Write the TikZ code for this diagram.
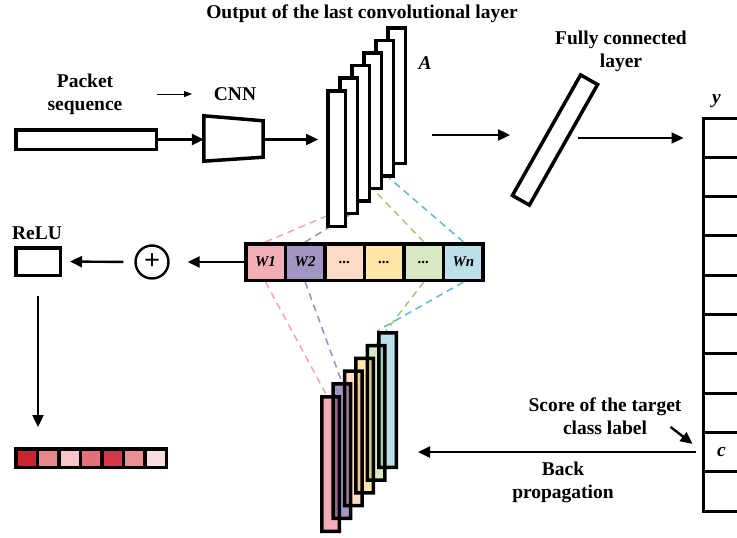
\documentclass[tikz,border=0pt]{standalone}
\usepackage{fontspec}
\setmainfont{Liberation Serif}
\usetikzlibrary{positioning, arrows.meta, calc, backgrounds}
\definecolor{wOneColor}{HTML}{F2AEB6}
\definecolor{wTwoColor}{HTML}{A295C3}
\definecolor{wThreeColor}{HTML}{FDDBC7}
\definecolor{wFourColor}{HTML}{FFE6A9}
\definecolor{wFiveColor}{HTML}{D8E8C5}
\definecolor{wSixColor}{HTML}{BBE0EA}
\definecolor{pinkDash}{HTML}{F4A6AE}
\definecolor{purpleDash}{HTML}{9A8CC6}
\definecolor{greenDash}{HTML}{A6C57A}
\definecolor{blueDash}{HTML}{5DBAD7}
\definecolor{heatOne}{HTML}{D0222E}
\definecolor{heatTwo}{HTML}{E9878F}
\definecolor{heatThree}{HTML}{F5C5C9}
\definecolor{heatFour}{HTML}{E4717A}
\definecolor{heatFive}{HTML}{D63645}
\definecolor{heatSix}{HTML}{EB8E95}
\definecolor{heatSeven}{HTML}{F9DEE1}
\tikzstyle{diagram} = [x = 1pt, y = -1pt]
\tikzstyle{boxStyle} = [draw=black, fill=white, line width=3.5pt, inner sep=0pt]
\tikzstyle{slabStyle} = [boxStyle, minimum width=17.5pt, minimum height=135.5pt]
\tikzstyle{labelText} = [font=\fontsize{19.5}{23}\selectfont\bfseries, align=center, inner sep=0pt]
\tikzstyle{mathText} = [font=\fontsize{19.5}{23}\selectfont\bfseries\itshape, inner sep=0pt]
\tikzstyle{weightText} = [font=\fontsize{15}{15}\selectfont\bfseries\itshape]
\tikzstyle{flowArrow} = [line width=2.4pt, -{Triangle[length=12pt, width=11pt]}]
\tikzstyle{thinArrow} = [line width=1pt, -{Triangle[length=8pt, width=6pt]}]
\tikzstyle{dashLine} = [line width=1.5pt, dash pattern=on 7pt off 5pt]
\newcommand{\cellHeight}{39.3}
\newcommand{\wDots}{...}

\begin{document}
\begin{tikzpicture}[diagram]
  \useasboundingbox (0,0) rectangle (737,538);

  \node [labelText] (titleText) at (362,14) {Output of the last convolutional layer};
  \node [labelText] (packetText) at (85,94.5) {Packet\\sequence};
  \node [labelText] (cnnText) at (235,94) {CNN};
  \node [labelText] (fcText) at (621,51.5) {Fully connected\\layer};
  \node [labelText] (reluText) at (37,233) {ReLU};
  \node [labelText] (scoreText) at (605,416.5) {Score of the target\\class label};
  \node [labelText] (backText) at (563,482.5) {Back\\propagation};
  \node [mathText] (aLabel) at (425,63) {A};

  \node [boxStyle, minimum width=140.5pt, minimum height=19.5pt] (packet) at (86,139.5) {};
  \node [minimum width=59pt, minimum height=45pt, inner sep=0pt] (cnn) at (233.5,138.5) {};
  \draw [line width=3.5pt] (cnn.north west) -- ($(cnn.north east)+(0,5)$)
    -- ($(cnn.south east)+(0,-4)$) -- (cnn.south west) -- cycle;

  \foreach \i in {5,4,...,0} {
    \pgfmathsetmacro{\xPos}{336.5 + 12 * \i}
    \pgfmathsetmacro{\yPos}{158.5 - 12.6 * \i}
    \node [slabStyle] (actLayer\i) at (\xPos,\yPos) {};
  }

  \node [boxStyle, rotate=60.5, minimum width=138.5pt, minimum height=19.5pt] (fcLayer) at (555,140) {};

  \foreach \i in {1,...,10} {
    \pgfmathsetmacro{\yPos}{118 + \cellHeight * \i - \cellHeight / 2}
    \node [boxStyle, line width=3pt, fill=none, minimum width=60pt, minimum height=\cellHeight pt] (yCell\i) at (733,\yPos) {};
  }
  \node [mathText] (yLabel) at ([xshift=15pt, yshift=15pt]yCell1.north west) {y};
  \node [mathText] (cLabel) at ([xshift=20pt]yCell9.west) {c};

  \foreach \i/\col/\txt in {1/wOneColor/W1, 2/wTwoColor/W2, 3/wThreeColor/\wDots, 4/wFourColor/\wDots, 5/wFiveColor/\wDots, 6/wSixColor/Wn} {
    \pgfmathsetmacro{\xPos}{245.75 + 39.58 * \i - 19.79}
    \node [boxStyle, fill=\col, minimum width=39.58pt, minimum height=36.5pt, weightText] (wCell\i) at (\xPos,262) {\txt};
  }

  \node [circle, draw, line width=2.4pt, minimum size=33pt, inner sep=0pt, font=\fontsize{28}{28}\selectfont\bfseries] (plusNode) at (152,262) {+};
  \node [boxStyle, minimum width=44.5pt, minimum height=27.5pt] (reluBox) at (38,261.5) {};

  \foreach \i/\col in {1/heatOne, 2/heatTwo, 3/heatThree, 4/heatFour, 5/heatFive, 6/heatSix, 7/heatSeven} {
    \pgfmathsetmacro{\xPos}{15.75 + 21.5 * \i - 10.75}
    \node [boxStyle, fill=\col, minimum width=21.5pt, minimum height=18.5pt] (heatCell\i) at (\xPos,458) {};
  }

  \begin{scope}[blend group=multiply]
    \foreach \i/\col in {5/wSixColor, 4/wFiveColor, 3/wFourColor, 2/wThreeColor, 1/wTwoColor, 0/wOneColor} {
      \pgfmathsetmacro{\xPos}{330.5 + 11.4 * \i}
      \pgfmathsetmacro{\yPos}{464 - 12.8 * \i}
      \node [slabStyle, fill=\col, minimum height=134.5pt] (gradLayer\i) at (\xPos,\yPos) {};
    }
  \end{scope}

  \begin{scope}[on background layer]
    \draw [dashLine, pinkDash] (wCell1.north) -- ($(actLayer0.center)+(6.5,50.5)$);
    \draw [dashLine, purpleDash] (wCell2.north) -- ($(actLayer1.center)+(2.5,68)$);
    \draw [dashLine, greenDash] (wCell5.north) -- ($(actLayer3.center)+(-7.5,60)$);
    \draw [dashLine, blueDash] (wCell6.north) -- ($(actLayer4.center)+(-4.5,62)$);
    \draw [dashLine, pinkDash] (wCell1.south) -- ([xshift=-4pt]gradLayer0.north);
    \draw [dashLine, purpleDash] (wCell2.south) -- (gradLayer1.north);
    \draw [dashLine, greenDash] (wCell5.south) -- (gradLayer4.north);
    \draw [dashLine, blueDash] (wCell6.south) -- (gradLayer5.north west);
  \end{scope}

  \draw [thinArrow] ([xshift=-78pt]cnnText.center) -- ([xshift=-43pt]cnnText.center);
  \draw [flowArrow] (packet.east) -- (cnn.west |- packet.east);
  \draw [flowArrow, shorten >=8pt] (cnn.east |- packet.east) -- (actLayer0.west |- packet.east);
  \draw [flowArrow, shorten <=25pt, shorten >=45pt] ([yshift=5pt]actLayer5.east |- fcLayer.center) -- ([yshift=5pt]fcLayer.center);
  \draw [flowArrow, shorten <=23pt, shorten >=18pt] ([yshift=2pt]fcLayer.center) -- ([yshift=2pt]fcLayer.center -| yCell1.west);
  \draw [flowArrow, shorten >=18pt] (wCell1.west) -- (plusNode.east);
  \draw [flowArrow, shorten <=11pt, shorten >=8pt] (plusNode.west) -- (reluBox.east);
  \draw [flowArrow, shorten <=19pt, shorten >=20pt] (reluBox.south) -- (reluBox.south |- heatCell1.north);
  \coordinate (scoreTip) at ([xshift=-9pt, yshift=-13pt]yCell9.north west);
  \coordinate (scoreTail) at ($(scoreTip)+(-22,-17)$);
  \draw [flowArrow] (scoreTail) -- (scoreTip);
  \draw [flowArrow, shorten <=6pt, shorten >=20pt] (yCell9.west) -- (yCell9.west -| gradLayer5.east);
\end{tikzpicture}
\end{document}
